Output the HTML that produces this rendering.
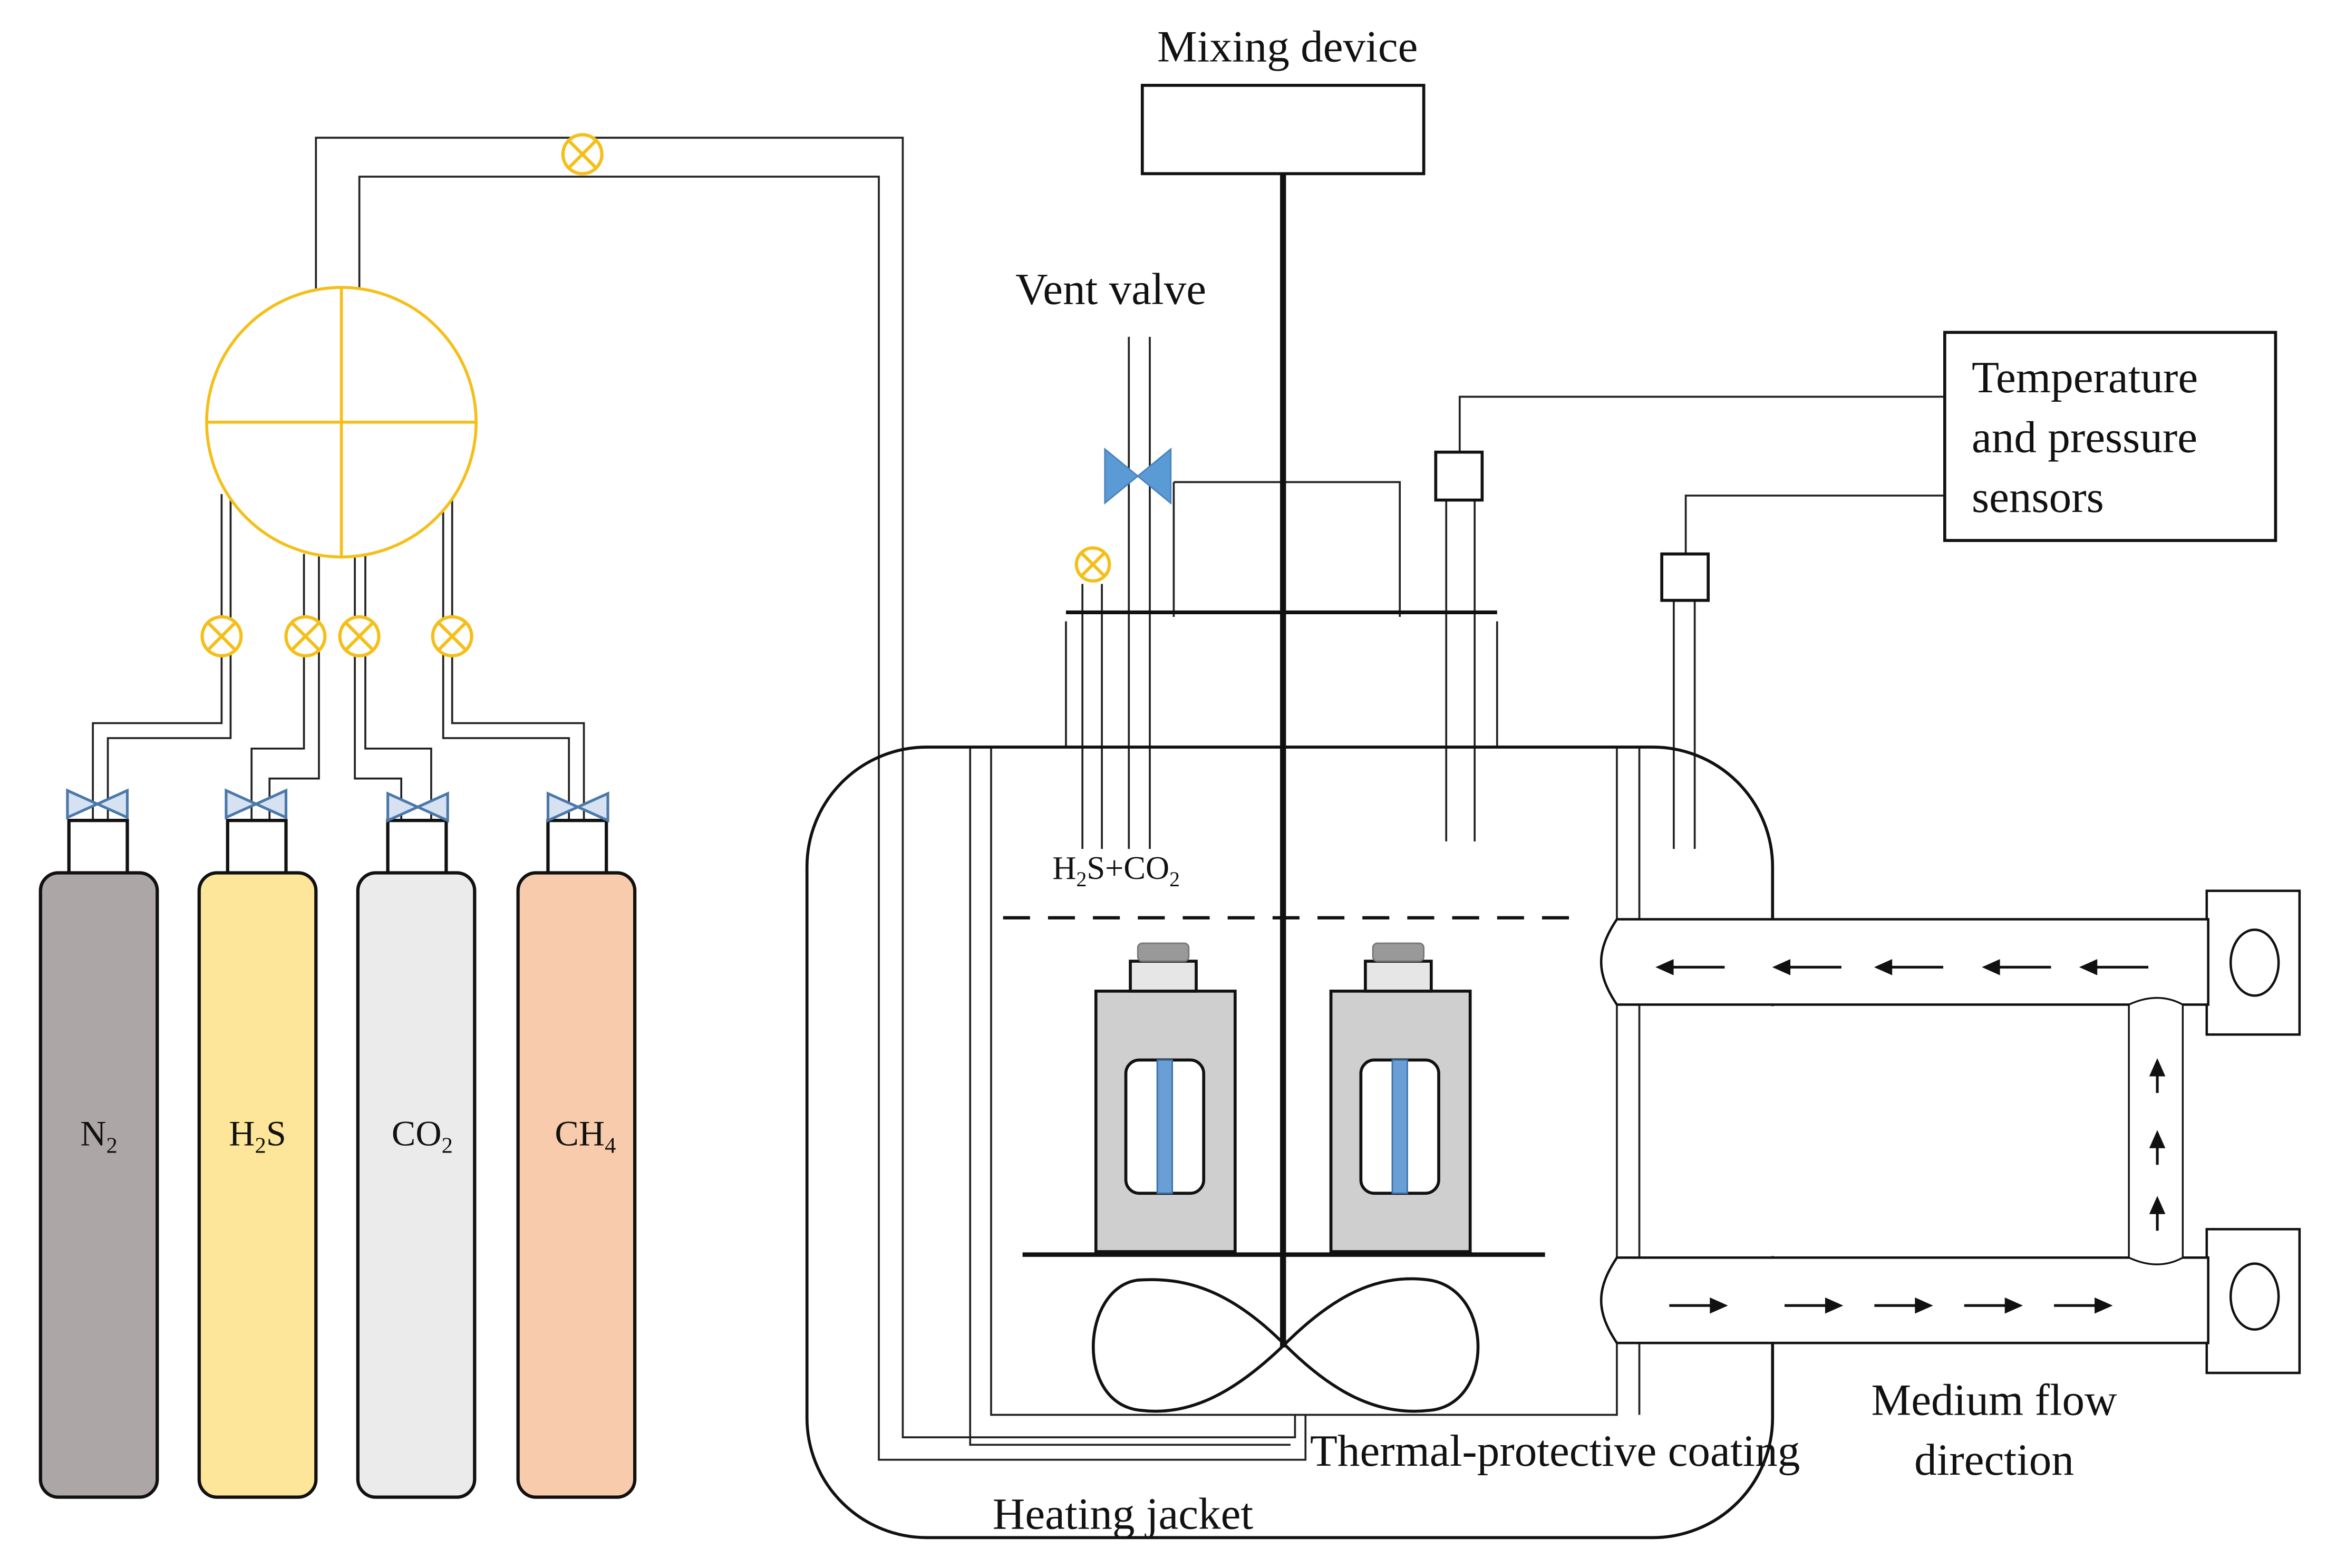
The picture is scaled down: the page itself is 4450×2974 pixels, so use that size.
<!DOCTYPE html>
<html><head><meta charset="utf-8"><style>html,body{margin:0;padding:0;background:#fff}svg{display:block}</style></head><body>
<svg width="4450" height="2974" viewBox="0 0 1567 1047.3" xmlns="http://www.w3.org/2000/svg" font-family="Liberation Serif, serif">
<rect width="1567" height="1048" fill="#fff"/>
<g fill="none" stroke="#222" stroke-width="1.3">
<polyline points="211,196 211,92 603,92 603,960 865,960 865,945"/>
<polyline points="240,196 240,118 587,118 587,975 872,975 872,945"/>
<polyline points="148,330 148,483 62,483 62,548"/>
<polyline points="154,330 154,493 72,493 72,548"/>
<polyline points="203,370 203,500 168,500 168,548"/>
<polyline points="213,370 213,520 180,520 180,548"/>
<polyline points="237,370 237,520 268,520 268,548"/>
<polyline points="244,370 244,500 288,500 288,548"/>
<polyline points="302,325 302,483 390,483 390,548"/>
<polyline points="296,325 296,493 380,493 380,548"/>
<polyline points="648,499 648,965 862,965"/>
<polyline points="662,499 662,945 1080,945 1080,499"/>
<line x1="1095" y1="499" x2="1095" y2="945"/>
<line x1="712" y1="415" x2="712" y2="499"/>
<line x1="1000" y1="415" x2="1000" y2="499"/>
<line x1="723" y1="390" x2="723" y2="567"/>
<line x1="736" y1="390" x2="736" y2="567"/>
<line x1="754" y1="225" x2="754" y2="567"/>
<line x1="768" y1="225" x2="768" y2="567"/>
<line x1="784" y1="322" x2="784" y2="412"/>
<polyline points="784,322 935,322 935,412"/>
<line x1="966" y1="334" x2="966" y2="562"/>
<line x1="985" y1="334" x2="985" y2="562"/>
<polyline points="975,302 975,265 1299,265"/>
<polyline points="1126,370 1126,331 1299,331"/>
<line x1="1118" y1="401" x2="1118" y2="567"/>
<line x1="1132" y1="401" x2="1132" y2="567"/>
</g>
<line x1="712" y1="409" x2="1000" y2="409" stroke="#111" stroke-width="2.5"/>
<text x="860" y="41" font-size="30" text-anchor="middle" fill="#111">Mixing device</text>
<rect x="763" y="57" width="188" height="59" fill="#fff" stroke="#111" stroke-width="2"/>
<rect x="539" y="499" width="645" height="528" rx="80" fill="none" stroke="#111" stroke-width="2"/>
<rect x="1170" y="672" width="30" height="167" fill="#fff"/>
<line x1="670" y1="613" x2="1050" y2="613" stroke="#111" stroke-width="2.2" stroke-dasharray="18,12"/>
<g stroke="#111" stroke-width="2">
<rect x="732" y="662" width="93" height="174" fill="#d0cfcf"/>
<rect x="755" y="642" width="44" height="20" fill="#e6e6e6"/>
<rect x="760" y="630" width="34" height="12" rx="3" fill="#999" stroke="#777" stroke-width="1"/>
<rect x="752" y="708" width="52" height="89" rx="9" fill="#fff"/>
<rect x="889" y="662" width="93" height="174" fill="#d0cfcf"/>
<rect x="912" y="642" width="44" height="20" fill="#e6e6e6"/>
<rect x="917" y="630" width="34" height="12" rx="3" fill="#999" stroke="#777" stroke-width="1"/>
<rect x="909" y="708" width="52" height="89" rx="9" fill="#fff"/>
</g>
<rect x="773" y="708" width="10" height="89" fill="#6a9fd6" stroke="#3b6fa8" stroke-width="1"/>
<rect x="930" y="708" width="10" height="89" fill="#6a9fd6" stroke="#3b6fa8" stroke-width="1"/>
<line x1="683" y1="838" x2="1032" y2="838" stroke="#111" stroke-width="3"/>
<path d="M858,898 C820,860 790,853 760,855 C722,860 718,938 762,942 C795,946 825,930 858,898 C890,866 920,850 955,855 C998,862 998,938 955,942 C920,946 890,930 858,898 Z" fill="none" stroke="#111" stroke-width="2"/>
<line x1="857" y1="116" x2="857" y2="900" stroke="#111" stroke-width="4"/>
<path d="M738,300 L782,336 L782,300 L738,336 Z" fill="#5b9bd5" stroke="#4a83bb" stroke-width="1"/>
<text x="742" y="203" font-size="30" text-anchor="middle" fill="#111">Vent valve</text>
<rect x="959" y="302" width="31" height="32" fill="#fff" stroke="#111" stroke-width="2"/>
<rect x="1110" y="370" width="31" height="31" fill="#fff" stroke="#111" stroke-width="2"/>
<rect x="1299" y="222" width="221" height="139" fill="#fff" stroke="#111" stroke-width="2"/>
<text font-size="30" fill="#111"><tspan x="1317" y="262">Temperature</tspan><tspan x="1317" y="302">and pressure</tspan><tspan x="1317" y="342">sensors</tspan></text>
<text x="703" y="587" font-size="22" fill="#111">H<tspan font-size="14" dy="5">2</tspan><tspan dy="-5">S+CO</tspan><tspan font-size="14" dy="5">2</tspan></text>
<g fill="#fff" stroke="#111" stroke-width="1.6">
<rect x="1474" y="595" width="62" height="96"/>
<rect x="1474" y="821" width="62" height="96"/>
<path d="M1080,614 L1475,614 L1475,671 L1080,671 C1066,650 1066,635 1080,614 Z"/>
<path d="M1080,840 L1475,840 L1475,897 L1080,897 C1066,876 1066,861 1080,840 Z"/>
<path d="M1422,671 C1435,665 1447,665 1458,671 L1458,840 C1447,846 1435,846 1422,840 Z" stroke-width="1.2"/>
<ellipse cx="1506" cy="643" rx="16" ry="22"/>
<ellipse cx="1506" cy="866" rx="16" ry="22"/>
</g>
<g stroke="#111" stroke-width="1.8" fill="#111">
<line x1="1110" y1="646" x2="1152" y2="646"/><path d="M1108,646 l9,-4 v8z"/>
<line x1="1188" y1="646" x2="1230" y2="646"/><path d="M1186,646 l9,-4 v8z"/>
<line x1="1256" y1="646" x2="1298" y2="646"/><path d="M1254,646 l9,-4 v8z"/>
<line x1="1328" y1="646" x2="1370" y2="646"/><path d="M1326,646 l9,-4 v8z"/>
<line x1="1393" y1="646" x2="1435" y2="646"/><path d="M1391,646 l9,-4 v8z"/>
<line x1="1115" y1="872" x2="1150" y2="872"/><path d="M1152,872 l-9,-4 v8z"/>
<line x1="1192" y1="872" x2="1227" y2="872"/><path d="M1229,872 l-9,-4 v8z"/>
<line x1="1252" y1="872" x2="1287" y2="872"/><path d="M1289,872 l-9,-4 v8z"/>
<line x1="1312" y1="872" x2="1347" y2="872"/><path d="M1349,872 l-9,-4 v8z"/>
<line x1="1372" y1="872" x2="1407" y2="872"/><path d="M1409,872 l-9,-4 v8z"/>
<line x1="1441" y1="730" x2="1441" y2="712"/><path d="M1441,709 l-4,9 h8z"/>
<line x1="1441" y1="778" x2="1441" y2="760"/><path d="M1441,757 l-4,9 h8z"/>
<line x1="1441" y1="822" x2="1441" y2="804"/><path d="M1441,801 l-4,9 h8z"/>
</g>
<text x="875" y="979" font-size="30" fill="#111">Thermal-protective coating</text>
<text x="663" y="1021" font-size="30" fill="#111">Heating jacket</text>
<text x="1332" y="945" font-size="30" text-anchor="middle" fill="#111">Medium flow</text>
<text x="1332" y="985" font-size="30" text-anchor="middle" fill="#111">direction</text>
<g stroke="#f5bf1a" stroke-width="2" fill="none">
<circle cx="228" cy="282" r="90" fill="#fff"/>
<line x1="138" y1="282" x2="318" y2="282"/><line x1="228" y1="192" x2="228" y2="372"/>
</g>
<g stroke="#f5bf1a" stroke-width="2.2" fill="#fff">
<g transform="translate(389,103)"><circle r="13"/><path d="M-9,-9 L9,9 M9,-9 L-9,9"/></g>
<g transform="translate(148,425)"><circle r="13"/><path d="M-9,-9 L9,9 M9,-9 L-9,9"/></g>
<g transform="translate(204,425)"><circle r="13"/><path d="M-9,-9 L9,9 M9,-9 L-9,9"/></g>
<g transform="translate(240,425)"><circle r="13"/><path d="M-9,-9 L9,9 M9,-9 L-9,9"/></g>
<g transform="translate(302,425)"><circle r="13"/><path d="M-9,-9 L9,9 M9,-9 L-9,9"/></g>
<g transform="translate(730,377)"><circle r="11"/><path d="M-8,-8 L8,8 M8,-8 L-8,8"/></g>
</g>
<g stroke="#111" stroke-width="2.2">
<rect x="46" y="548" width="39" height="36" fill="#fff"/>
<rect x="152" y="548" width="39" height="36" fill="#fff"/>
<rect x="259" y="548" width="39" height="36" fill="#fff"/>
<rect x="366" y="548" width="39" height="36" fill="#fff"/>
<rect x="27" y="583" width="78" height="417" rx="12" fill="#aca7a6"/>
<rect x="133" y="583" width="78" height="417" rx="12" fill="#fde69a"/>
<rect x="239" y="583" width="78" height="417" rx="12" fill="#ebebeb"/>
<rect x="346" y="583" width="78" height="417" rx="12" fill="#f7cbab"/>
</g>
<g fill="#d6e1f2" stroke="#4a78a8" stroke-width="1.8">
<path d="M45,528 L85,546 L85,528 L45,546 Z"/>
<path d="M151,528 L191,546 L191,528 L151,546 Z"/>
<path d="M259,530 L299,548 L299,530 L259,548 Z"/>
<path d="M366,530 L406,548 L406,530 L366,548 Z"/>
</g>
<g font-size="24" fill="#111" text-anchor="middle">
<text x="66" y="765">N<tspan font-size="15" dy="5">2</tspan></text>
<text x="172" y="765">H<tspan font-size="15" dy="5">2</tspan><tspan dy="-5">S</tspan></text>
<text x="282" y="765">CO<tspan font-size="15" dy="5">2</tspan></text>
<text x="391" y="765">CH<tspan font-size="15" dy="5">4</tspan></text>
</g>
</svg>
</body></html>
